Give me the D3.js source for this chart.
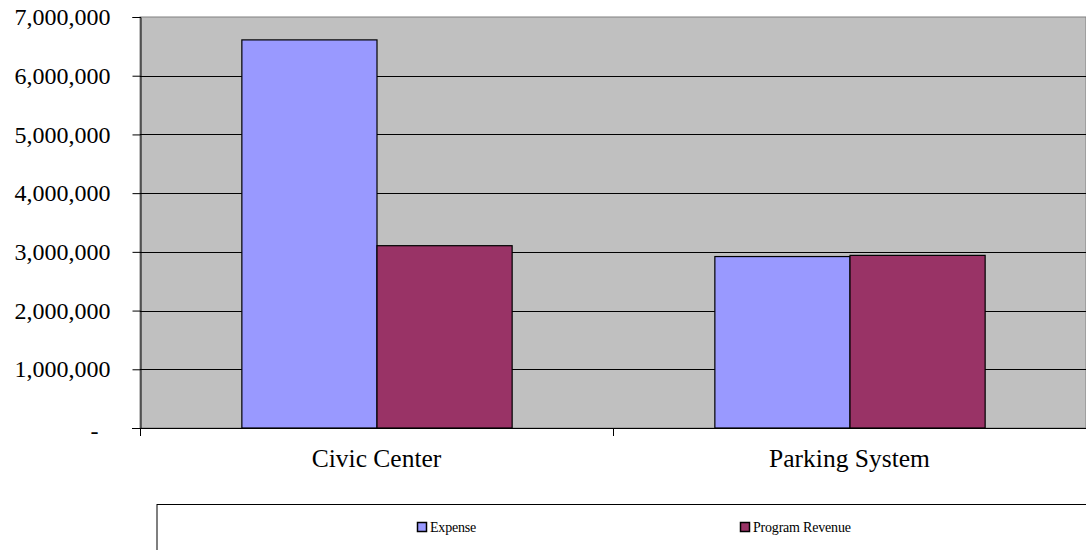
<!DOCTYPE html>
<html><head><meta charset="utf-8">
<script src="https://cdn.jsdelivr.net/npm/d3@7"></script>
<style>body{margin:0;background:#fff}svg{display:block}</style>
</head><body>
<svg id="c" width="1086" height="550"></svg>
<script>
const categories = ["Civic Center", "Parking System"];
const seriesNames = ["Expense", "Program Revenue"];
const expense = [6610000, 2920000];
const programRevenue = [3105000, 2940000];
const yTicks = [0, 1000000, 2000000, 3000000, 4000000, 5000000, 6000000, 7000000];
const colors = ["#9999FF", "#993366"];

const svg = d3.select("#c");
const L = 140, R = 1086, T = 17, B = 428;
const x = d3.scaleBand().domain(categories).range([L, R]).paddingInner(0).paddingOuter(0);
const xs = d3.scaleBand().domain(seriesNames).range([0, x.bandwidth()]).paddingInner(0).paddingOuter(0.75);
const y = d3.scaleLinear().domain([0, 7000000]).range([B, T]);

svg.append("rect").attr("x", L).attr("y", T).attr("width", R - L).attr("height", B - T)
  .attr("fill", "#C0C0C0").attr("stroke", "#808080").attr("stroke-width", 1);

// gridlines
svg.append("g").selectAll("line").data(yTicks.filter(d => d > 0 && d < 7000000)).join("line")
  .attr("x1", L).attr("x2", R).attr("y1", d => Math.round(y(d)) + 0.5).attr("y2", d => Math.round(y(d)) + 0.5)
  .attr("stroke", "#000").attr("stroke-width", 1);

const fmt = d => d === 0 ? "-" : d3.format(",")(d);
const yAxis = d3.axisLeft(y).tickValues(yTicks).tickSize(8).tickPadding(22).tickFormat(fmt);
const gy = svg.append("g").attr("transform", `translate(${L + 0.5},0)`).call(yAxis);
gy.select(".domain").attr("stroke", "#000");
gy.selectAll(".tick line").attr("stroke", "#000");
gy.selectAll("text").attr("font-family", "'Liberation Serif', 'Times New Roman', serif").attr("font-size", 24).attr("fill", "#000");
gy.selectAll(".tick text").filter(d => d === 0).attr("x", -42).attr("dy", "0.42em");

const data = categories.map((c, i) => ({cat: c, vals: [expense[i], programRevenue[i]]}));
svg.append("g").selectAll("g").data(data).join("g")
  .attr("transform", d => `translate(${x(d.cat)},0)`)
  .selectAll("rect").data(d => d.vals.map((v, j) => ({s: seriesNames[j], v, j}))).join("rect")
  .attr("x", d => xs(d.s) + 0.5).attr("width", xs.bandwidth())
  .attr("y", d => y(d.v)).attr("height", d => B - y(d.v))
  .attr("fill", d => colors[d.j]).attr("stroke", "#000").attr("stroke-width", 1.2);

// x axis
svg.append("line").attr("x1", L - 8).attr("x2", R).attr("y1", B + 0.5).attr("y2", B + 0.5).attr("stroke", "#000");
const bounds = [L, L + x.bandwidth(), R];
svg.append("g").selectAll("line").data(bounds).join("line")
  .attr("x1", d => d + 0.5).attr("x2", d => d + 0.5).attr("y1", B).attr("y2", B + 8).attr("stroke", "#000");
svg.append("g").selectAll("text").data(categories).join("text")
  .attr("x", d => x(d) + x.bandwidth() / 2).attr("y", 467)
  .attr("text-anchor", "middle").attr("font-family", "'Liberation Serif', 'Times New Roman', serif")
  .attr("font-size", 25.5).text(d => d);

// legend
svg.append("rect").attr("x", 157).attr("y", 504.5).attr("width", 1000).attr("height", 80)
  .attr("fill", "#fff").attr("stroke", "#000").attr("stroke-width", 1);
const lg = svg.append("g").selectAll("g").data(seriesNames).join("g")
  .attr("transform", (d, i) => `translate(${[417, 740][i]},522)`);
lg.append("rect").attr("x", 0.5).attr("y", 0.5).attr("width", 9).attr("height", 9)
  .attr("fill", (d, i) => colors[i]).attr("stroke", "#000").attr("stroke-width", 1.5);
lg.append("text").attr("x", 13).attr("y", 9.5).attr("font-family", "'Liberation Serif', 'Times New Roman', serif")
  .attr("font-size", 14).attr("letter-spacing", -0.2).text(d => d);
</script>
</body></html>
